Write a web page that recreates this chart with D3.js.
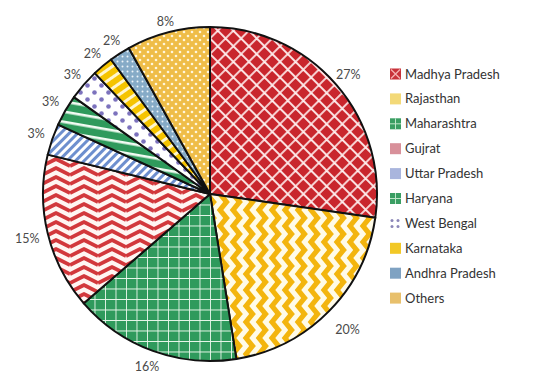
<!DOCTYPE html>
<html><head><meta charset="utf-8">
<script src="https://cdn.jsdelivr.net/npm/d3@7"></script>
<style>body{margin:0;background:#fff}svg{display:block}</style>
</head><body>
<script>
const categories = ["Madhya Pradesh","Rajasthan","Maharashtra","Gujrat","Uttar Pradesh","Haryana","West Bengal","Karnataka","Andhra Pradesh","Others"];
const values = [27,20,16,15,3,3,3,2,2,8];
const valueLabels = ["27%","20%","16%","15%","3%","3%","3%","2%","2%","8%"];
const swatchColors = ["#c8323a","#f3d978","#3a9e63","#d8909a","#a9b5dd","#3a9e63","#ffffff","#f2c826","#7fa2c2","#e8c06c"];

const W=556,H=376, cx=210, cy=194, R=167;
const svg=d3.select("body").append("svg").attr("width",W).attr("height",H);
const defs=svg.append("defs");

function pat(id,w,h,bg,rot){
  const p=defs.append("pattern").attr("id",id).attr("patternUnits","userSpaceOnUse")
    .attr("width",w).attr("height",h);
  if(rot) p.attr("patternTransform",`rotate(${rot})`);
  p.append("rect").attr("width",w).attr("height",h).attr("fill",bg);
  return p;
}
// Madhya Pradesh: red with white diagonal lattice
let p=pat("p0",11,11,"#c9262d",45);
p.append("path").attr("d","M0,0H11M0,11H11M0,0V11M11,0V11").attr("stroke","#fbe0e0").attr("stroke-width",1.8);
p.append("circle").attr("cx",0).attr("cy",0).attr("r",1.5).attr("fill","#fff");
// Rajasthan: vertical zigzag
p=pat("p1",13,16,"#f3b50e",0);
p.append("path").attr("d","M10,-8L3.5,0L10,8L3.5,16L10,24").attr("fill","none").attr("stroke","#fffbe8").attr("stroke-width",5);
// Maharashtra: green grid
p=pat("p2",10.5,10.5,"#2f9a5c",0);
p.append("path").attr("d","M0,0H10.5M0,0V10.5").attr("stroke","#e8f7ea").attr("stroke-width",1.8);
// Gujrat: red horizontal zigzag on white
p=pat("p3",28,9,"#fff5f2",0);
[-9,0,9].forEach(o=>p.append("path").attr("d",`M0,${o+8}L14,${o+1}L28,${o+8}`).attr("fill","none").attr("stroke","#d2383c").attr("stroke-width",3.8));
// Uttar Pradesh: blue stripes on white
p=pat("p4",6,6,"#ffffff",45);
p.append("rect").attr("width",3).attr("height",6).attr("fill","#6d8fce");
// Haryana: green with white stripes
p=pat("p5",10,10,"#2f9a5c",10);
p.append("rect").attr("y",3).attr("width",10).attr("height",2.6).attr("fill","#f2fbf3");
// West Bengal: purple dots on white
p=pat("p6",14,14,"#ffffff",0);
p.append("circle").attr("cx",3.5).attr("cy",3.5).attr("r",2.3).attr("fill","#7c72bd");
p.append("circle").attr("cx",10.5).attr("cy",10.5).attr("r",2.3).attr("fill","#7c72bd");
// Karnataka: yellow with white stripes
p=pat("p7",9,9,"#f5c400",-35);
p.append("rect").attr("width",9).attr("height",3).attr("fill","#fff6cf");
// Andhra Pradesh: blue grey with white dots
p=pat("p8",5,5,"#86abc7",0);
p.append("circle").attr("cx",2.5).attr("cy",2.5).attr("r",1).attr("fill","#eef5fa");
// Others: golden with white dots
p=pat("p9",8,8,"#efbd48",0);
p.append("circle").attr("cx",2).attr("cy",2).attr("r",1.3).attr("fill","#fff6dc");
p.append("circle").attr("cx",6).attr("cy",6).attr("r",1.3).attr("fill","#fff6dc");

const pie=d3.pie().sort(null).value(d=>d)(values);
const arc=d3.arc().innerRadius(0).outerRadius(R);
const g=svg.append("g").attr("transform",`translate(${cx},${cy})`);
g.selectAll("path.slice").data(pie).join("path").attr("class","slice")
  .attr("d",arc).attr("fill",(d,i)=>`url(#p${i})`)
  .attr("stroke","#111").attr("stroke-width",2).attr("stroke-linejoin","round");

const lblR=[183,193,184,188,184,184,182,183,182,178];
const labelArc=i=>d3.arc().innerRadius(lblR[i]).outerRadius(lblR[i]);
g.selectAll("text.val").data(pie).join("text").attr("class","val")
  .attr("transform",(d,i)=>`translate(${labelArc(i).centroid(d)})`)
  .attr("text-anchor","middle").attr("dy","0.35em")
  .attr("font-family","Lato, 'Open Sans', sans-serif").attr("font-size",12.5)
  .attr("fill","#4a4a4a").text((d,i)=>valueLabels[i]);

const leg=svg.append("g").attr("transform","translate(390,74)");
const rows=leg.selectAll("g").data(categories).join("g")
  .attr("transform",(d,i)=>`translate(0,${i*24.9})`);
rows.each(function(d,i){
  const r=d3.select(this);
  if(i===6){
    [[2,-3],[8,-3],[2,3],[8,3]].forEach(([x,y])=>r.append("circle").attr("cx",x).attr("cy",y).attr("r",1.5).attr("fill","#8b86b8"));
  } else {
    r.append("rect").attr("x",0).attr("y",-5.5).attr("width",11).attr("height",11).attr("fill",swatchColors[i]);
    if(i===0){r.append("path").attr("d","M1,-4.5L10,4.5M10,-4.5L1,4.5").attr("stroke","#f4b0b0").attr("stroke-width",1.4);}
    if(i===2||i===5){r.append("path").attr("d","M0,0H11M5.5,-5.5V5.5").attr("stroke","#bfe6c9").attr("stroke-width",1);}
  }
  r.append("text").attr("x",15).attr("dy","0.35em")
   .attr("font-family","Lato, 'Open Sans', sans-serif").attr("font-size",13)
   .attr("fill","#333").text(d);
});
</script>
</body></html>
